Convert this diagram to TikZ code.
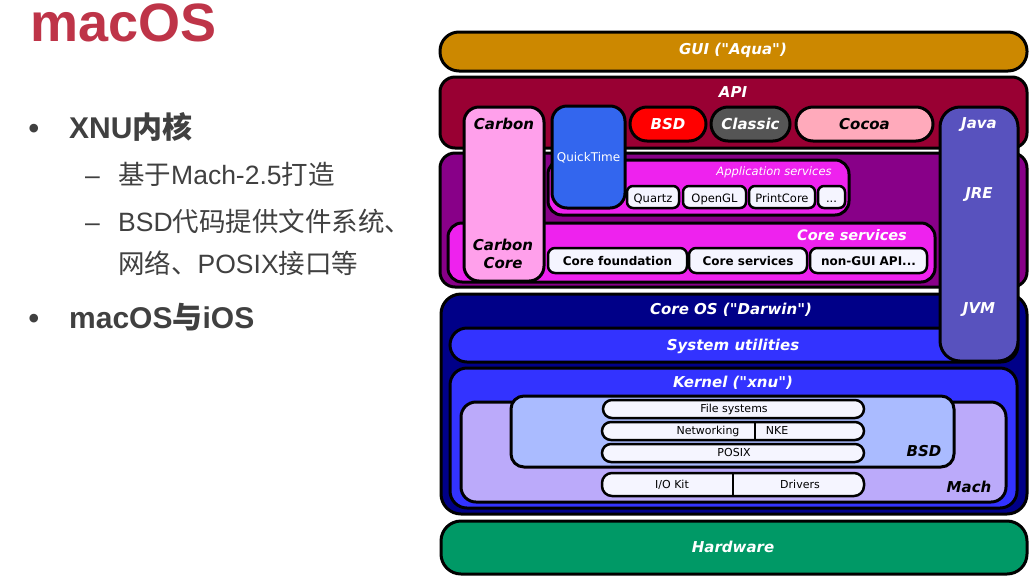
\documentclass[tikz,border=0pt]{standalone}
\usepackage{fontspec}
\setmainfont{Liberation Sans}
\newfontfamily\cjk{Noto Sans CJK SC}
\newfontfamily\dv{DejaVu Sans}[BoldFont={DejaVu Sans Bold},ItalicFont={DejaVu Sans Oblique},BoldItalicFont={DejaVu Sans Bold Oblique}]

\definecolor{titlered}{RGB}{190,52,72}
\definecolor{slidegray}{RGB}{64,64,64}
\definecolor{aqua}{RGB}{204,136,0}
\definecolor{apired}{RGB}{153,0,51}
\definecolor{svcpurple}{RGB}{136,0,136}
\definecolor{svcmagenta}{RGB}{238,34,238}
\definecolor{carbonpink}{RGB}{255,160,235}
\definecolor{qtblue}{RGB}{51,102,238}
\definecolor{classicgray}{RGB}{85,85,85}
\definecolor{cocoapink}{RGB}{255,170,187}
\definecolor{javablue}{RGB}{88,82,190}
\definecolor{darwinnavy}{RGB}{0,0,136}
\definecolor{kernelblue}{RGB}{51,51,255}
\definecolor{machlav}{RGB}{187,170,250}
\definecolor{bsdblue}{RGB}{170,187,255}
\definecolor{chipwhite}{RGB}{245,245,255}
\definecolor{hwgreen}{RGB}{0,153,102}

\tikzset{
  layer/.style={draw=black, line width=3, rounded corners=#1},
  layer/.default=15,
  chip/.style={draw=black, line width=2.5, fill=chipwhite, rounded corners=#1},
  chip/.default=7,
  tag/.style={font=\dv\bfseries\itshape\fontsize{15}{15}\selectfont, text=white, anchor=base, inner sep=0},
  apptext/.style={font=\dv\fontsize{11.5}{12}\selectfont, anchor=base, inner sep=0},
  coretext/.style={font=\dv\bfseries\fontsize{12}{12}\selectfont, anchor=base, inner sep=0},
  kerntext/.style={font=\dv\fontsize{11}{12}\selectfont, anchor=base, inner sep=0},
  head/.style={font=\bfseries\fontsize{30}{36}\selectfont, text=slidegray, anchor=base west, inner sep=0},
  sub/.style={font=\fontsize{26.5}{32}\selectfont, text=slidegray, anchor=base west, inner sep=0}
}

\begin{document}
\begin{tikzpicture}[x=1pt, y=-1pt]
\useasboundingbox (0,0) rectangle (1030,582);
\fill[white] (0,0) rectangle (1030,582);

% slide text
\node[font=\bfseries\fontsize{54}{60}\selectfont, text=titlered, anchor=base west, inner sep=0] (title) at (30,41) {macOS};
\node[head] (dot1) at (28.5,138) {•};
\node[head] (xnu) at (69,138) {XNU{\cjk 内核}};
\node[sub] (dash1) at (85,184) {–};
\node[sub] (mach25) at (118,184) {{\cjk 基于}Mach-2.5{\cjk 打造}};
\node[sub] (dash2) at (85,231) {–};
\node[sub] (bsdcode) at (118,231) {BSD{\cjk 代码提供文件系统、}};
\node[sub] (bsdcode2) at (118,273) {{\cjk 网络、}POSIX{\cjk 接口等}};
\node[head] (dot2) at (28.5,328) {•};
\node[head] (macios) at (69,328) {macOS{\cjk 与}iOS};

% GUI and API
\draw[layer=19, fill=aqua] (440,32) rectangle (1027,71);
\node[tag] (gui) at (733,54) {GUI ("Aqua")};
\draw[layer, fill=apired] (440,77) rectangle (1027,148);
\node[tag] (api) at (733,97) {API};

% application and core services
\draw[layer, fill=svcpurple] (440,153) rectangle (1027,287);
\draw[layer=14, fill=svcmagenta] (548,160) rectangle (849,215);
\node[tag, font=\dv\itshape\fontsize{11.5}{12}\selectfont] (appsvc) at (774,175) {Application services};
\draw[chip=6] (627,186) rectangle (679,208);
\node[apptext] (quartz) at (653,202) {Quartz};
\draw[chip=6] (683,186) rectangle (746,208);
\node[apptext] (opengl) at (714.5,202) {OpenGL};
\draw[chip=6] (749,186) rectangle (815,208);
\node[apptext] (printcore) at (782,202) {PrintCore};
\draw[chip=6] (818,186) rectangle (845,208);
\node[apptext] (more) at (831.5,202) {...};

\draw[layer=14, fill=svcmagenta] (448,223) rectangle (935,282);
\node[tag, font=\dv\bfseries\itshape\fontsize{14.5}{15}\selectfont] (coresvc) at (852,240) {Core services};
\draw[chip] (548,248) rectangle (687,273);
\node[coretext] (cf) at (617.5,265) {Core foundation};
\draw[chip] (689,248) rectangle (807,273);
\node[coretext] (cs) at (748,265) {Core services};
\draw[chip] (810,248) rectangle (927,273);
\node[coretext] (nongui) at (868.5,265) {non-GUI API...};

% Carbon, QuickTime and the API pills
\draw[layer, fill=carbonpink] (464,107) rectangle (544,281);
\node[tag, text=black] (carbon) at (504,129) {Carbon};
\node[tag, text=black, align=center, font=\dv\bfseries\itshape\fontsize{15}{18}\selectfont] (carboncore) at (503,268) {Carbon\\Core};
\draw[layer, fill=qtblue] (552,106) rectangle (625,208);
\node[tag, font=\dv\fontsize{12}{12}\selectfont] (qt) at (588.5,161) {QuickTime};
\draw[layer=17, fill=red] (630,107) rectangle (706,141);
\node[tag] (bsdapi) at (668,129) {BSD};
\draw[layer=17, fill=classicgray] (711,107) rectangle (790,141);
\node[tag] (classic) at (750.5,129) {Classic};
\draw[layer=17, fill=cocoapink] (796,107) rectangle (933,141);
\node[tag, text=black] (cocoa) at (864.5,129) {Cocoa};

% Darwin
\draw[layer=20, fill=darwinnavy] (441,294) rectangle (1027,514);
\node[tag] (darwin) at (731,314) {Core OS ("Darwin")};
\draw[layer=17, fill=kernelblue] (450,328) rectangle (1018,362);
\node[tag] (sysutil) at (733,350) {System utilities};
\draw[layer=17, fill=kernelblue] (450,368) rectangle (1017,508);
\node[tag] (kernel) at (733,387) {Kernel ("xnu")};
\draw[layer, fill=machlav] (461,402) rectangle (1006,502);
\node[tag, text=black] (mach) at (969,492) {Mach};
\draw[layer=13, fill=bsdblue] (511,396) rectangle (954,467);
\node[tag, text=black] (bsdk) at (924,456) {BSD};
\draw[chip=9] (603,400) rectangle (864,418);
\node[kerntext] (fs) at (734,412) {File systems};
\draw[chip=9] (602,422) rectangle (864,440);
\draw[line width=2.5] (755,422) -- (755,440);
\node[kerntext] (net) at (708,434) {Networking};
\node[kerntext] (nke) at (777,434) {NKE};
\draw[chip=9] (602,444) rectangle (864,462);
\node[kerntext] (posix) at (734,456) {POSIX};
\draw[chip=10] (602,473) rectangle (864,496);
\draw[line width=2.5] (733,473) -- (733,496);
\node[kerntext] (iokit) at (672,488) {I/O Kit};
\node[kerntext] (drivers) at (800,488) {Drivers};

% Java column
\draw[layer=20, fill=javablue] (940,107) rectangle (1018,361);
\node[tag] (java) at (979,128) {Java};
\node[tag] (jre) at (979,198) {JRE};
\node[tag] (jvm) at (979,313) {JVM};

% Hardware
\draw[layer=20, fill=hwgreen] (441,521) rectangle (1027,574);
\node[tag] (hw) at (733,552) {Hardware};
\end{tikzpicture}
\end{document}
